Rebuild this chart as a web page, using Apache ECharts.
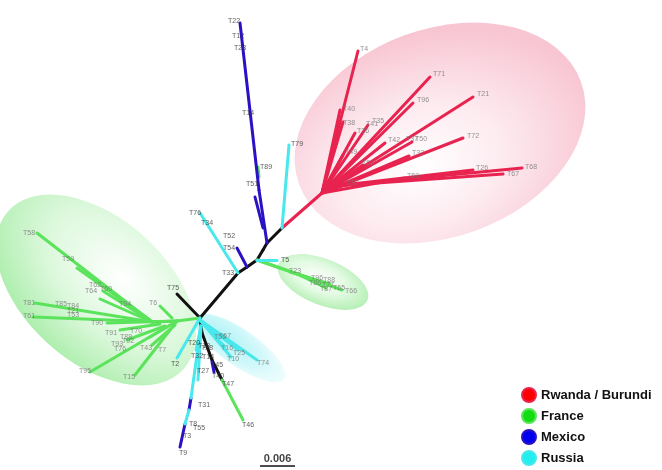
<!DOCTYPE html>
<html><head><meta charset="utf-8">
<script src="https://cdn.jsdelivr.net/npm/echarts@6/dist/echarts.min.js"></script>
<style>html,body{margin:0;padding:0;background:#fff}#c{width:662px;height:470px}</style>
</head><body><div id="c"></div>
<script>
// ---- legend / groups ----
const countries = ['Rwanda / Burundi', 'France', 'Mexico', 'Russia'];
const legendColors = ['#ff0000', '#11dd11', '#0000ee', '#22eeee'];
const branchColors = ['#e8234f', '#5be35b', '#2a12c4', '#48e8ec'];

// ---- tree branches [x1, y1, x2, y2] in layout units ----
const backboneEdges = [
  [200,318,238,273],[238,273,247,267],[247,267,257,260],[257,260,263,250],[263,250,267,243],
  [267,243,282,228],[200,318,177,294],[200,318,202,333],[202,333,212,360],[212,360,222,380]
];
const rwandaEdges = [
  [282,228,322,193],
  [322,193,358,51],[322,193,340,110],[322,193,343,122],[324,190,368,125],[322,193,355,133],
  [322,193,343,155],[322,193,430,77],[322,193,413,103],[322,193,473,97],[322,193,385,143],
  [322,193,412,142],[322,193,409,156],[322,193,363,165],[322,193,463,138],
  [322,193,335,186],[335,186,473,170],[335,186,522,168],[335,186,503,174],[322,193,405,178],
  [322,193,348,184]
];
const franceEdges = [
  [200,318,177,321],[177,321,152,322],
  [152,322,37,233],[150,320,77,268],[152,322,103,291],[152,322,100,299],
  [152,322,35,303],[160,322,33,317],[177,321,107,323],[160,324,120,330],
  [167,327,150,337],[165,326,127,340],[177,321,90,372],[177,321,135,375],
  [172,318,160,306],[175,325,152,345],
  [257,260,300,275],[257,260,318,281],[290,272,330,284],[300,275,342,290],[295,273,326,288],
  [258,167,259,177],[222,380,243,420]
];
const mexicoEdges = [
  [267,243,259,190],[259,190,240,23],[263,228,255,197],[247,267,237,248],
  [212,362,214,372],[191,398,189,410],[185,424,180,447]
];
const russiaEdges = [
  [282,228,289,145],[238,273,200,213],[257,260,277,260],
  [201,326,191,398],[189,410,185,424],[201,326,198,380],[201,326,196,350],
  [200,320,257,360],[200,320,238,350],[200,320,231,357],[200,320,225,347],[200,320,220,337],
  [200,318,177,358]
];

// ---- tip labels [x, y, name] ----
const darkLabels = [
  [234,21,'T22'],[238,36,'T12'],[240,48,'T28'],[248,113,'T14'],[266,167,'T89'],[252,184,'T51'],
  [297,144,'T79'],[195,213,'T76'],[207,223,'T34'],[229,236,'T52'],[229,248,'T54'],[228,273,'T33'],
  [173,288,'T75'],[285,260,'T5'],
  [175,364,'T2'],[194,343,'T20'],[204,346,'T18'],[207,348,'T28'],[197,356,'T32'],[208,357,'T14'],
  [217,365,'T45'],[203,371,'T27'],[218,376,'T40'],[228,384,'T47'],[204,405,'T31'],
  [193,424,'T8'],[199,428,'T55'],[187,436,'T3'],[183,453,'T9'],[248,425,'T46']
];
const grayLabels = [
  [220,337,'T56'],[225,336,'T67'],[227,348,'T16'],[233,359,'T10'],[239,353,'T25'],[263,363,'T74'],
  [295,271,'T23'],[317,278,'T96'],[329,280,'T88'],[315,283,'T86'],[328,285,'T77'],[326,289,'T87'],
  [339,288,'T65'],[351,291,'T66'],
  [364,49,'T4'],[349,109,'T40'],[349,123,'T38'],[372,124,'T41'],[378,121,'T35'],[363,131,'T36'],
  [351,152,'T49'],[439,74,'T71'],[423,100,'T96'],[483,94,'T21'],[394,140,'T42'],[412,139,'T37'],
  [421,139,'T50'],[418,153,'T33'],[368,163,'T63'],[473,136,'T72'],[482,168,'T26'],[531,167,'T68'],
  [513,174,'T67'],[413,176,'T69'],[352,183,'T30'],
  [29,233,'T58'],[68,259,'T59'],[95,285,'T62'],[91,291,'T64'],[106,289,'T60'],[125,304,'T94'],
  [153,303,'T6'],[29,303,'T81'],[29,316,'T61'],[61,304,'T85'],[73,306,'T84'],[73,311,'T21'],
  [73,315,'T53'],[97,323,'T90'],[111,333,'T91'],[126,337,'T88'],[128,341,'T92'],[136,331,'T70'],
  [117,344,'T93'],[120,349,'T76'],[146,348,'T43'],[162,350,'T7'],[85,371,'T95'],[129,377,'T15']
];

// ---- highlighted clades [cx, cy, rx, ry, rotationDeg, group] ----
const cladeRegions = [
  [440,133,150,104,-20,0],
  [96,290,118,72,42,1],
  [323,282,48,23,22,2],
  [240,348,54,18,35,3]
];

// ---- scale bar ----
const scaleBarX = [260, 295];
const scaleBarY = 466;
const scaleBarLabel = '0.006';

const gradients = [
  {type:'radial',x:0.4,y:0.62,r:0.62,colorStops:[{offset:0,color:'#ffffff'},{offset:0.45,color:'#fdebf0'},{offset:1,color:'#f8c6d3'}]},
  {type:'radial',x:0.55,y:0.32,r:0.75,colorStops:[{offset:0,color:'#ffffff'},{offset:0.5,color:'#dcf8dc'},{offset:1,color:'#a4eca4'}]},
  {type:'radial',x:0.45,y:0.45,r:0.6,colorStops:[{offset:0,color:'#ffffff'},{offset:0.5,color:'#e2fae2'},{offset:1,color:'#b0eeb0'}]},
  {type:'radial',x:0.3,y:0.5,r:0.75,colorStops:[{offset:0,color:'#b2f3f6'},{offset:0.6,color:'#d2f8fa'},{offset:1,color:'rgba(235,252,253,0.6)'}]}
];

const toLines = e => e.map(s => ({coords: [[s[0], s[1]], [s[2], s[3]]]}));
function edgeSeries(name, edges, color, width) {
  return {
    name, type: 'lines', coordinateSystem: 'cartesian2d', polyline: false, silent: true, z: 3,
    lineStyle: {color, width, opacity: 1, cap: 'round'}, data: toLines(edges)
  };
}
function labelSeries(list, color) {
  return {
    type: 'scatter', symbolSize: 1, silent: true, z: 5, itemStyle: {color: 'rgba(0,0,0,0)'},
    data: list.map(l => ({value: [l[0], l[1]], name: l[2]})),
    label: {show: true, position: 'inside', formatter: p => p.name, color,
      fontFamily: 'Liberation Sans, Arial, sans-serif', fontSize: 7}
  };
}

const chart = echarts.init(document.getElementById('c'), null, {renderer: 'canvas'});
chart.setOption({
  animation: false,
  backgroundColor: '#ffffff',
  grid: {left: 0, right: 0, top: 0, bottom: 0},
  xAxis: {type: 'value', min: 0, max: 662, show: false},
  yAxis: {type: 'value', min: 0, max: 470, inverse: true, show: false},
  legend: {
    orient: 'vertical', left: 521, top: 387, itemWidth: 14, itemHeight: 14, itemGap: 5,
    icon: 'circle', selectedMode: false, padding: 0,
    textStyle: {fontFamily: 'Liberation Sans, Arial, sans-serif', fontSize: 13, fontWeight: 'bold', color: '#111'},
    data: countries.map((n, i) => ({name: n, itemStyle: {color: legendColors[i]}}))
  },
  series: [
    {
      type: 'custom', silent: true, z: 1, data: cladeRegions,
      renderItem(params, api) {
        const c = api.coord([api.value(0), api.value(1)]);
        const s = api.size([api.value(2), api.value(3)]);
        const rx = Math.abs(s[0]), ry = Math.abs(s[1]);
        return {
          type: 'circle', x: c[0], y: c[1], rotation: -api.value(4) * Math.PI / 180,
          scaleX: 1, scaleY: ry / rx, shape: {cx: 0, cy: 0, r: rx},
          style: {fill: gradients[api.value(5)]}
        };
      }
    },
    edgeSeries('backbone', backboneEdges, '#111111', 3),
    edgeSeries(countries[0], rwandaEdges, branchColors[0], 3),
    edgeSeries(countries[1], franceEdges, branchColors[1], 3),
    edgeSeries(countries[2], mexicoEdges, branchColors[2], 3),
    edgeSeries(countries[3], russiaEdges, branchColors[3], 3),
    labelSeries(grayLabels, '#777777'),
    labelSeries(darkLabels, '#333333'),
    {
      type: 'lines', coordinateSystem: 'cartesian2d', silent: true, z: 4,
      lineStyle: {color: '#111', width: 1.5, opacity: 1},
      data: [{coords: [[scaleBarX[0], scaleBarY], [scaleBarX[1], scaleBarY]]}]
    },
    {
      type: 'scatter', symbolSize: 1, silent: true, z: 5, itemStyle: {color: 'rgba(0,0,0,0)'},
      data: [{value: [(scaleBarX[0] + scaleBarX[1]) / 2, scaleBarY - 7], name: scaleBarLabel}],
      label: {show: true, position: 'inside', formatter: p => p.name, color: '#111',
        fontFamily: 'Liberation Sans, Arial, sans-serif', fontSize: 11, fontWeight: 'bold'}
    }
  ]
});
</script></body></html>
